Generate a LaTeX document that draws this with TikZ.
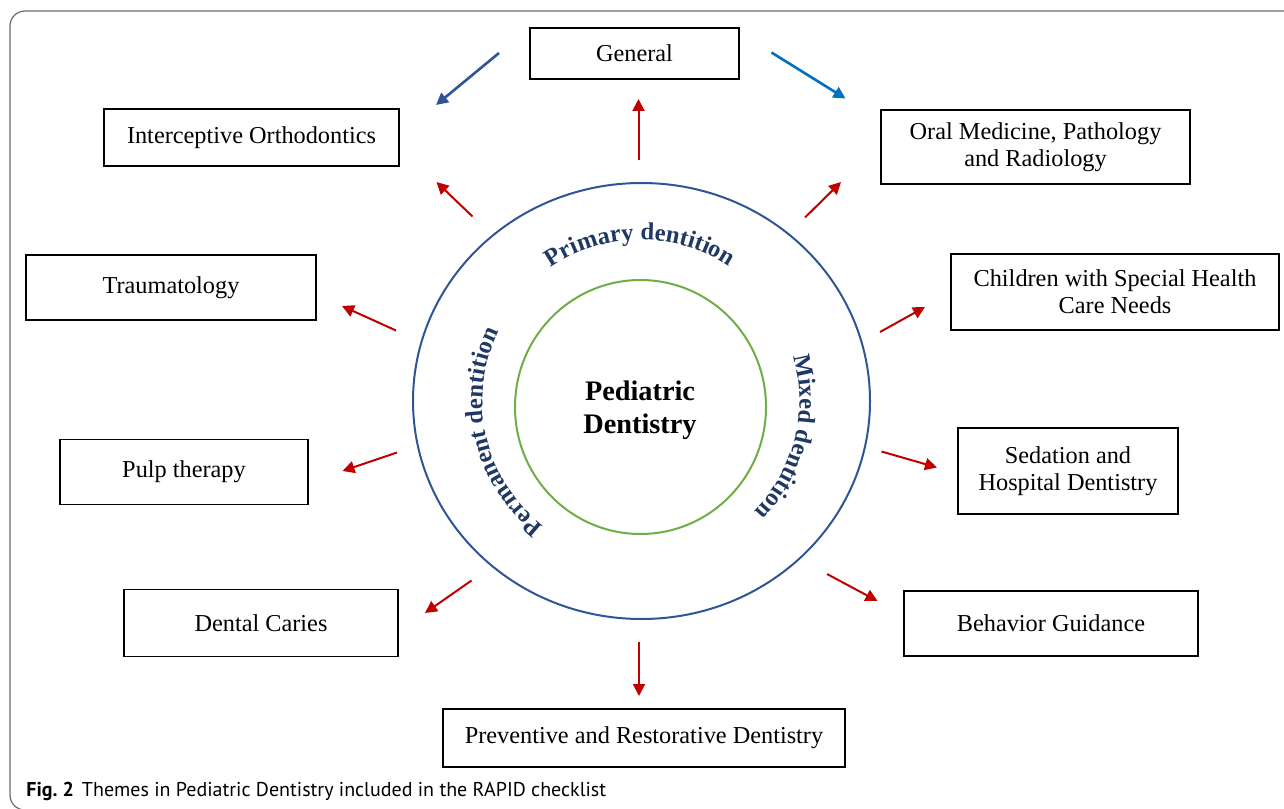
\documentclass[tikz,border=0pt]{standalone}
\usepackage{fontspec}
\setmainfont{Liberation Serif}
\newfontfamily\capfont{PT Sans}
\usetikzlibrary{arrows.meta,decorations.text}
\definecolor{arrowred}{HTML}{C00000}
\definecolor{ringblue}{HTML}{2F5597}
\definecolor{skyblue}{HTML}{0070C0}
\definecolor{ringgreen}{HTML}{70AD47}
\definecolor{textnavy}{HTML}{203864}
\definecolor{framegray}{HTML}{6B6B6B}
\newcommand\arcfont{\fontsize{12.3}{14}\selectfont\bfseries}

\begin{document}
\begin{tikzpicture}[x=0.5pt,y=-0.5pt,>={Triangle[length=6pt,width=6pt]},
  box/.style={draw,line width=0.75pt,inner sep=0pt,align=center,
    font=\fontsize{12.15}{13.4}\selectfont},
  red arrow/.style={->,arrowred,line width=1pt},
  blue arrow/.style={->,line width=1.3pt},
  arc text/.style={decorate,decoration={text along path,text align=center,
    text color=textnavy,text={|\arcfont|#1}}}]

  \useasboundingbox (0,0) rectangle (1284,808);
  \clip (0,0) rectangle (1284,808);
  \draw[framegray,line width=0.6pt,rounded corners=7.5pt] (10,11) rectangle (1300,810);

  \draw[ringblue,line width=1pt] (641.5,401) ellipse [x radius=228.5,y radius=218];
  \draw[ringgreen,line width=1pt] (640.5,407) ellipse [x radius=125.5,y radius=127];
  \node[font=\fontsize{14.15}{16.35}\selectfont\bfseries,align=center] (pd) at (640,410.5) {Pediatric\\Dentistry};

  \path[arc text=Primary dentition] (641.5,401) ++(-130:161) arc[start angle=-130,end angle=-51,radius=161];
  \path[arc text=Mixed dentition] (641.5,401) ++(-30:158) arc[start angle=-30,end angle=58,radius=158];
  \path[arc text=Permanent dentition] (641.5,401) ++(120:159) arc[start angle=120,end angle=214,radius=159];

  \node[box,minimum width=104.5pt,minimum height=25.5pt] (gen) at (634.5,53.5) {General};
  \node[box,minimum width=147.5pt,minimum height=28.5pt] (io) at (251.5,137.5) {Interceptive Orthodontics};
  \node[box,minimum width=154.5pt,minimum height=37pt] (omp) at (1035.5,147) {Oral Medicine, Pathology\\and Radiology};
  \node[box,minimum width=145pt,minimum height=32.5pt] (tr) at (171,287.5) {Traumatology};
  \node[box,minimum width=164pt,minimum height=38pt] (cs) at (1115,292) {Children with Special Health\\Care Needs};
  \node[box,minimum width=124pt,minimum height=32.5pt] (pt) at (184,472) {Pulp therapy};
  \node[box,minimum width=110pt,minimum height=43pt] (sh) at (1068,471) {Sedation and\\Hospital Dentistry};
  \node[box,minimum width=137pt,minimum height=33.5pt] (dc) at (261,623) {Dental Caries};
  \node[box,minimum width=147pt,minimum height=32.5pt] (bg) at (1051,623.5) {Behavior Guidance};
  \node[box,minimum width=201pt,minimum height=29pt] (pr) at (644,738) {Preventive and Restorative Dentistry};

  \foreach \n/\sx/\sy/\ex/\ey in {gen/638.5/160/638.5/99, io/472.5/216.5/436.5/182,
      omp/805/217.5/841/182, tr/396/330.5/342/306, cs/880/332/925/307,
      pt/397/452.5/342.5/471, sh/881.5/451.5/937/467.5, dc/471.5/580.5/425/613,
      bg/827/574/877.5/601, pr/639/641.5/639/696}{
    \coordinate (\n-s) at (\sx,\sy);
    \coordinate (\n-e) at (\ex,\ey);
    \draw[red arrow] (\n-s) -- (\n-e);
  }

  \coordinate (gl-s) at (499,53);
  \coordinate (gl-e) at (436,105);
  \coordinate (gr-s) at (771.5,52.5);
  \coordinate (gr-e) at (845.5,98.5);
  \draw[blue arrow,ringblue] (gl-s) -- (gl-e);
  \draw[blue arrow,skyblue] (gr-s) -- (gr-e);

  \node[anchor=base west,inner sep=0pt,font=\capfont\fontsize{10}{12}\selectfont] (cap) at (26,796)
    {\textbf{Fig.~2}\hspace{0.4em}Themes in Pediatric Dentistry included in the RAPID checklist};
\end{tikzpicture}
\end{document}
